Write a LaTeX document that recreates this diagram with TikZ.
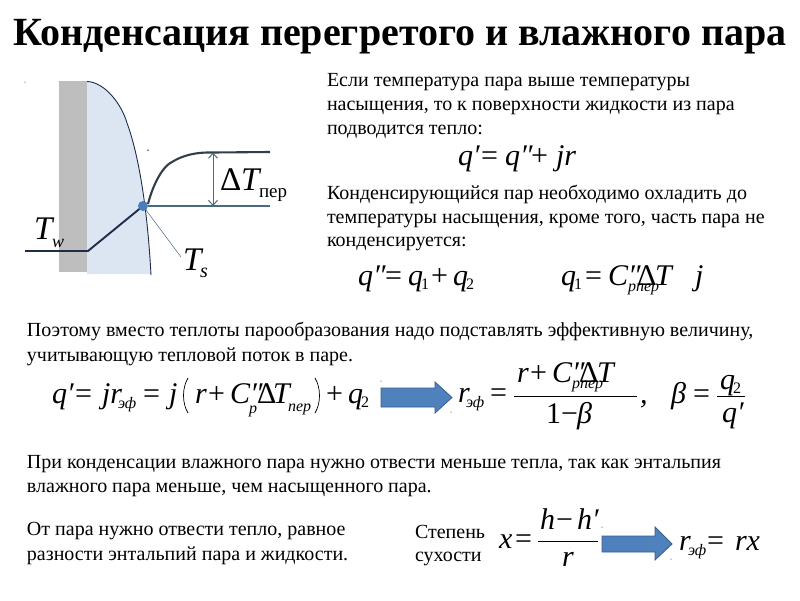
\documentclass[tikz,border=0pt]{standalone}
\usepackage{fontspec}
\setmainfont{Liberation Serif}
\usetikzlibrary{arrows.meta}
\definecolor{wallgray}{HTML}{BEBEBE}
\definecolor{filmblue}{HTML}{DCE6F2}
\definecolor{linedark}{HTML}{1F2D4A}
\definecolor{curvedark}{HTML}{333F48}
\definecolor{slate}{HTML}{4A6A80}
\definecolor{dotblue}{HTML}{4A7EBB}
\definecolor{arrowfill}{HTML}{4F81BD}
\definecolor{arrowedge}{HTML}{385D8A}
\newcommand\fsz[1]{\fontsize{#1}{#1}\selectfont}
\newcommand\fr[4]{\node[frm] (#1) at (#2,#3) {#4};}
\newcommand\frs[4]{\node[frmsub] (#1) at (#2,#3) {#4};}
\newcommand\frn[4]{\node[frmnum] (#1) at (#2,#3) {#4};}
\tikzset{
  txt/.style={anchor=base west,inner sep=0,outer sep=0,font=\fsz{20}},
  ttl/.style={anchor=base west,inner sep=0,outer sep=0,font=\fsz{40}\bfseries},
  frm/.style={anchor=base west,inner sep=0,outer sep=0,font=\fsz{30}\itshape},
  frmsub/.style={anchor=base west,inner sep=0,outer sep=0,font=\fsz{16}\itshape},
  frmnum/.style={anchor=base west,inner sep=0,outer sep=0,font=\fsz{16}},
  bigarrow/.style={fill=arrowfill,draw=arrowedge,line width=.8pt},
  speck/.style={circle,fill=black,inner sep=0,minimum size=1.5pt},
  barline/.style={line width=.8pt,draw=black}
}
\begin{document}
\begin{tikzpicture}[x=1pt,y=-1pt]
\useasboundingbox (0,0) rectangle (800,600);
\fill[white] (0,0) rectangle (800,600);
\node[ttl] (title) at (13,45) {Конденсация перегретого и влажного пара};
% diagram
\fill[wallgray] (59,81) rectangle (87,272);
\fill[filmblue] (87,81) .. controls (105,82) and (122,105) .. (127,123) .. controls (137,150) and (147,200) .. (151,274) -- (87,274) -- cycle;
\draw[linedark,line width=.9pt] (87,81.5) .. controls (105,82) and (122,105) .. (127,123) .. controls (137,150) and (147,200) .. (151,275);
\coordinate (wallL) at (25,251);
\coordinate (wallR) at (88,251);
\coordinate (surf) at (143,206);
\coordinate (vapR) at (270,152);
\coordinate (satR) at (270,206);
\coordinate (dtTop) at (213,152.5);
\coordinate (dtBot) at (213,206);
\coordinate (tsEnd) at (181,257);
\draw[linedark,line width=1.9pt] (wallL) -- (wallR) -- (surf);
\draw[curvedark,line width=2.1pt] (148,204) .. controls (153,184) and (163,166) .. (172,162) .. controls (183,155) and (197,152) .. (dtTop) -- (vapR);
\draw[slate,line width=1.5pt] (148,206) -- (satR);
\draw[slate,line width=1pt,{Straight Barb[length=5pt,width=9pt]}-{Straight Barb[length=5pt,width=9pt]}] (dtTop) -- (dtBot);
\draw[slate,line width=.5pt] (surf) -- (tsEnd);
\node[circle,fill=dotblue,inner sep=0,minimum size=10pt] (surfdot) at (surf) {};
\node[frm,font=\fsz{33}] (dt) at (220,190) {Δ\textit{T}};
\node[txt,font=\fsz{19}] (dtsub) at (259,197) {пер};
\node[frm,font=\fsz{33}\itshape] (tw) at (34,239) {T};
\node[frm,font=\fsz{18}\itshape] (twsub) at (52,247) {w};
\node[frm,font=\fsz{33}\itshape] (ts) at (183,270) {T};
\node[frm,font=\fsz{20}\itshape] (tssub) at (200,277) {s};
\node[speck] (s1) at (148,150) {};
\node[speck,minimum size=1pt] (s2) at (25,82) {};
\node[speck,minimum size=1pt] (s3) at (381,381) {};
\node[speck,minimum size=1pt] (s4) at (451,412) {};
\node[speck,minimum size=1pt] (s5) at (602,527) {};
\node[speck,minimum size=1pt] (s6) at (671,559) {};
% top right text
\node[txt] (a1) at (327,86.5) {Если температура пара выше температуры};
\node[txt] (a2) at (327,110.5) {насыщения, то к поверхности жидкости из пара};
\node[txt] (a3) at (327,134) {подводится тепло:};
\fr{fa1}{458}{165}{q′}
\fr{fa2}{481}{165}{\textup{=}}
\fr{fa3}{505}{165}{q″}
\fr{fa4}{531}{165}{\textup{+}}
\fr{fa5}{556}{165}{jr}
\node[txt] (b1) at (327,199) {Конденсирующийся пар необходимо охладить до};
\node[txt] (b2) at (327,223) {температуры насыщения, кроме того, часть пара не};
\node[txt] (b3) at (327,246.5) {конденсируется:};
\fr{fb1}{358}{285}{q″}
\fr{fb2}{385}{285}{\textup{=}}
\fr{fb3}{408}{285}{q}
\frn{fb4}{421}{289}{1}
\fr{fb5}{431}{285}{\textup{+}}
\fr{fb6}{453}{285}{q}
\frn{fb7}{466}{289}{2}
\fr{fc1}{561}{285}{q}
\frn{fc2}{574}{289}{1}
\fr{fc3}{585}{285}{\textup{=}}
\fr{fc4}{608}{285}{C″}
\frs{fc5}{628}{291}{pпер}
\fr{fc6}{637}{285}{\textup{Δ}}
\fr{fc7}{655}{285}{T}
\fr{fc8}{695}{285}{j}
% middle
\node[txt] (c1) at (27,336) {Поэтому вместо теплоты парообразования надо подставлять эффективную величину,};
\node[txt] (c2) at (27,361) {учитывающую тепловой поток в паре.};
\fr{fd1}{52}{403}{q′}
\fr{fd2}{75}{403}{\textup{=}}
\fr{fd3}{102}{403}{jr}
\frs{fd4}{118}{408}{эф}
\fr{fd5}{143}{403}{\textup{=}}
\fr{fd6}{169}{403}{j}
\fr{fd7}{195}{403}{r}
\fr{fd8}{208}{403}{\textup{+}}
\fr{fd9}{230}{403}{C″}
\frs{fd10}{249}{413}{p}
\fr{fd11}{257}{403}{\textup{Δ}}
\fr{fd12}{273}{403}{T}
\frs{fd13}{288}{411}{пер}
\fr{fd14}{326}{403}{\textup{+}}
\fr{fd15}{348}{403}{q}
\frn{fd16}{361}{407}{2}
\coordinate (lpT) at (188,378);
\coordinate (lpB) at (188,413);
\coordinate (rpT) at (315,378);
\coordinate (rpB) at (315,413);
\draw[black,line width=.7pt] (lpT) .. controls (182,388) and (182,403) .. (lpB);
\draw[black,line width=.7pt] (rpT) .. controls (321,388) and (321,403) .. (rpB);
\draw[bigarrow] (381,388) -- (435,388) -- (435,382) -- (452,397.5) -- (435,413) -- (435,407) -- (381,407) -- cycle;
\fr{fe1}{458}{402}{r}
\frs{fe2}{466}{407}{эф}
\fr{fe3}{490}{402}{\textup{=}}
\fr{fe4}{517}{382}{r}
\fr{fe5}{530}{382}{\textup{+}}
\fr{fe6}{552}{382}{C″}
\frs{fe7}{572}{388}{pпер}
\fr{fe8}{579}{382}{\textup{Δ}}
\fr{fe9}{597}{382}{T}
\draw[barline] (514,396) -- (637,396);
\fr{fe10}{546}{423}{\textup{1}}
\fr{fe11}{561}{423}{\textup{−}}
\fr{fe12}{577}{423}{β}
\fr{fe13}{640}{403}{,}
\fr{ff1}{671}{403}{β}
\fr{ff2}{693}{403}{\textup{=}}
\fr{ff3}{720}{389}{q}
\frn{ff4}{733}{393}{2}
\draw[barline] (717,396) -- (745,396);
\fr{ff5}{722}{422}{q′}
% bottom
\node[txt] (d1) at (27,468.5) {При конденсации влажного пара нужно отвести меньше тепла, так как энтальпия};
\node[txt] (d2) at (27,492.5) {влажного пара меньше, чем насыщенного пара.};
\node[txt] (e1) at (27,535) {От пара нужно отвести тепло, равное};
\node[txt] (e2) at (27,560) {разности энтальпий пара и жидкости.};
\node[txt] (e3) at (415,538) {Степень};
\node[txt] (e4) at (415,561) {сухости};
\fr{g1}{499}{548}{x}
\fr{g2}{515}{548}{\textup{=}}
\fr{g3}{540}{529}{h}
\fr{g4}{556}{529}{\textup{−}}
\fr{g5}{577}{529}{h′}
\draw[barline] (538,541) -- (598,541);
\fr{g6}{562}{566}{r}
\draw[bigarrow] (602,536) -- (655,536) -- (655,527) -- (672,544) -- (655,560) -- (655,552) -- (602,552) -- cycle;
\fr{g7}{679}{550}{r}
\frs{g8}{688}{555}{эф}
\fr{g9}{707}{550}{\textup{=}}
\fr{g10}{735}{550}{rx}
\end{tikzpicture}
\end{document}
